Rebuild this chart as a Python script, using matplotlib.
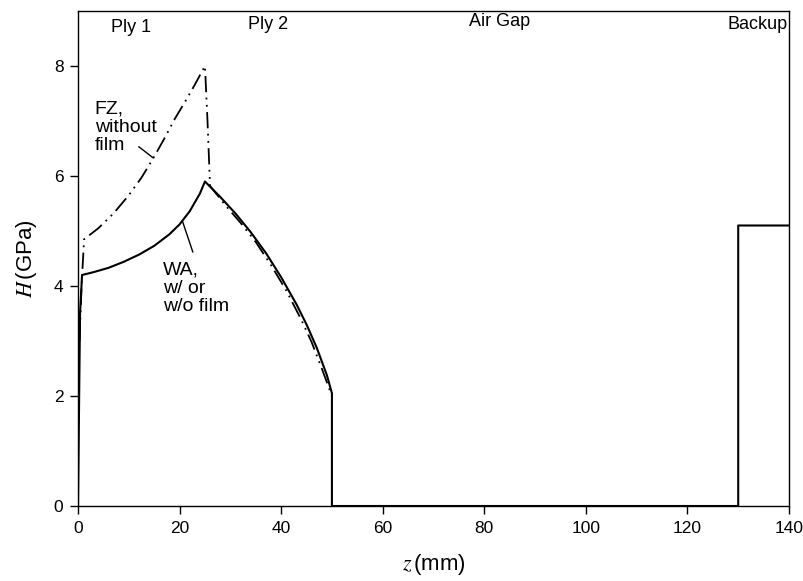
import matplotlib
matplotlib.use("Agg")
import matplotlib.pyplot as plt

plt.rcParams['font.family'] = ['Liberation Sans', 'DejaVu Sans']
plt.rcParams['mathtext.fontset'] = 'stix'

# WA curve (solid), w/ or w/o film
wa_z = [0.0, 0.4, 0.8, 3, 6, 9, 12, 15, 18, 20, 22, 24, 25,
        28, 31, 34, 37, 40, 43, 45, 47, 49, 50, 50,
        130, 130, 140]
wa_h = [0.0, 3.5, 4.2, 4.25, 4.33, 4.44, 4.57, 4.73, 4.94, 5.12, 5.36, 5.68, 5.9,
        5.62, 5.32, 4.98, 4.6, 4.16, 3.67, 3.3, 2.88, 2.38, 2.05, 0.0,
        0.0, 5.1, 5.1]

# FZ curve (dash-dot-dot), without film
fz_z = [0.3, 0.7, 1.2, 4, 7, 10, 12.5, 14.8, 17, 19, 21.4, 23, 25, 25.5, 26,
        29, 32, 35, 38, 41, 44, 46, 48, 50]
fz_h = [3.0, 4.0, 4.85, 5.05, 5.32, 5.65, 5.97, 6.32, 6.68, 7.03, 7.4, 7.66, 8.0, 7.0, 5.82,
        5.47, 5.15, 4.8, 4.38, 3.92, 3.38, 2.98, 2.5, 2.0]

regions = ['Ply 1', 'Ply 2', 'Air Gap', 'Backup']
region_x = [10.5, 37.5, 83, 139.8]
region_y = [8.7, 8.76, 8.8, 8.75]

fig = plt.figure(figsize=(8.04, 5.81), dpi=100)
ax = fig.add_axes([78 / 804, 1 - 506 / 581, (789 - 78) / 804, (506 - 11) / 581])

ax.plot(wa_z, wa_h, color='black', lw=1.5)
ax.plot(fz_z, fz_h, color='black', lw=1.3, linestyle=(0, (9, 3, 1, 3, 1, 3)))

ax.set_xlim(0, 140)
ax.set_ylim(0, 9)
ax.set_xticks(range(0, 141, 20))
ax.set_yticks([0, 2, 4, 6, 8])
ax.tick_params(direction='out', length=5.5, width=1, pad=5, labelsize=12.5, top=False, right=False)
for s in ax.spines.values():
    s.set_linewidth(1.0)

for name, x, y in zip(regions, region_x, region_y):
    ha = 'right' if name == 'Backup' else 'center'
    ax.text(x, y, name, ha=ha, va='center', fontsize=13)

ax.text(3.3, 7.38, 'FZ,\nwithout\nfilm', ha='left', va='top', fontsize=14, linespacing=1.12)
ax.plot([12.0, 14.8], [6.53, 6.33], color='black', lw=1.0)

ax.text(16.7, 4.45, 'WA,\nw/ or\nw/o film', ha='left', va='top', fontsize=14, linespacing=1.12)
ax.plot([22.6, 20.6], [4.62, 5.17], color='black', lw=1.0)

ax.set_xlabel(r'$z\,$(mm)', fontsize=16, labelpad=12)
ax.set_ylabel(r'$H\,$(GPa)', fontsize=16, labelpad=11)

fig.savefig('out.png', dpi=100)
